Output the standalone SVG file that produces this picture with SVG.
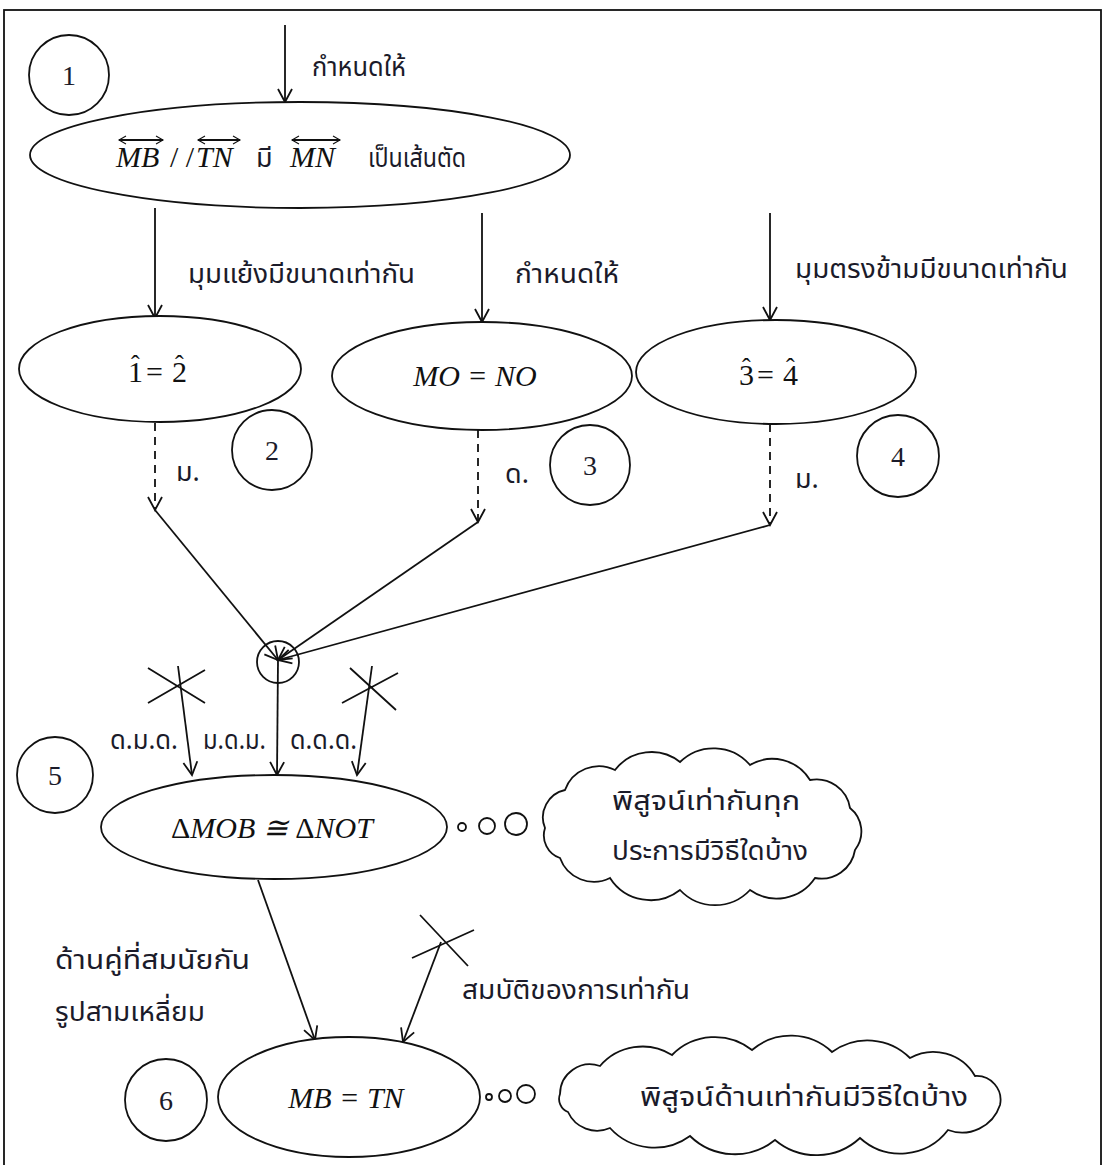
<svg xmlns="http://www.w3.org/2000/svg" width="1105" height="1165" viewBox="0 0 1105 1165">
  <style>
    .ln { fill: none; stroke: #111; stroke-width: 1.8; }
    .dash { stroke-dasharray: 8 6; }
    .shape { fill: #fff; stroke: #111; stroke-width: 1.8; }
    .th { font-family: "Noto Sans Thai", "Tahoma", "DejaVu Sans", "Noto Sans", sans-serif; font-size: 27px; fill: #1b1b2a; }
    .num { font-family: "Liberation Serif", serif; font-size: 28px; fill: #1b1b2a; }
    .math { font-family: "Liberation Serif", serif; font-style: italic; font-size: 30px; fill: #111; }
    .up { font-family: "Liberation Serif", serif; font-size: 30px; fill: #111; }
    .hat { font-size: 26px; }
  </style>
  <defs>
    <marker id="arrow" markerUnits="userSpaceOnUse" markerWidth="18" markerHeight="18" refX="15" refY="9" orient="auto">
      <path d="M2,2 L15,9 L2,16" fill="none" stroke="#111" stroke-width="1.8"/>
    </marker>
    <marker id="tip" markerUnits="userSpaceOnUse" markerWidth="10" markerHeight="10" refX="8" refY="5" orient="auto-start-reverse">
      <path d="M1,1 L8,5 L1,9" fill="none" stroke="#111" stroke-width="1.1"/>
    </marker>
  </defs>

  <rect width="1105" height="1165" fill="#fff"/>
  <!-- outer frame -->
  <rect x="4" y="10" width="1097" height="1170" fill="none" stroke="#111" stroke-width="1.8"/>

  <!-- connectors -->
  <g id="connectors">
    <line class="ln" x1="285" y1="25" x2="285" y2="102" marker-end="url(#arrow)"/>
    <line class="ln" x1="155" y1="208" x2="155" y2="318" marker-end="url(#arrow)"/>
    <line class="ln" x1="482" y1="213" x2="482" y2="322" marker-end="url(#arrow)"/>
    <line class="ln" x1="770" y1="213" x2="770" y2="320" marker-end="url(#arrow)"/>

    <line class="ln dash" x1="155" y1="423" x2="155" y2="510" marker-end="url(#arrow)"/>
    <line class="ln dash" x1="478" y1="430" x2="478" y2="522" marker-end="url(#arrow)"/>
    <line class="ln dash" x1="770" y1="424" x2="770" y2="525" marker-end="url(#arrow)"/>

    <line class="ln" x1="155" y1="510" x2="278" y2="660" marker-end="url(#arrow)"/>
    <line class="ln" x1="478" y1="522" x2="278" y2="660" marker-end="url(#arrow)"/>
    <line class="ln" x1="770" y1="525" x2="278" y2="660" marker-end="url(#arrow)"/>

    <line class="ln" x1="178" y1="666" x2="192" y2="775" marker-end="url(#arrow)"/>
    <line class="ln" x1="278" y1="660" x2="277" y2="775" marker-end="url(#arrow)"/>
    <line class="ln" x1="372" y1="666" x2="357" y2="775" marker-end="url(#arrow)"/>

    <line class="ln" x1="258" y1="880" x2="315" y2="1040" marker-end="url(#arrow)"/>
    <line class="ln" x1="441" y1="942" x2="403" y2="1042" marker-end="url(#arrow)"/>

    <!-- crossed marks on rejected paths -->
    <path class="ln" d="M148,668 L205,703 M148,703 L205,670"/>
    <path class="ln" d="M342,703 L398,673 M350,668 L396,710"/>
    <path class="ln" d="M412,958 L474,930 M420,915 L468,966"/>
  </g>

  <!-- step numbers -->
  <g id="step1"><circle class="shape" cx="69" cy="75" r="40"/><text class="num" x="69" y="85" text-anchor="middle">1</text></g>
  <g id="step2"><circle class="shape" cx="272" cy="450" r="40"/><text class="num" x="272" y="460" text-anchor="middle">2</text></g>
  <g id="step3"><circle class="shape" cx="590" cy="465" r="40"/><text class="num" x="590" y="475" text-anchor="middle">3</text></g>
  <g id="step4"><circle class="shape" cx="898" cy="456" r="41"/><text class="num" x="898" y="466" text-anchor="middle">4</text></g>
  <g id="step5"><circle class="shape" cx="55" cy="775" r="38"/><text class="num" x="55" y="785" text-anchor="middle">5</text></g>
  <g id="step6"><circle class="shape" cx="166" cy="1100" r="41"/><text class="num" x="166" y="1110" text-anchor="middle">6</text></g>

  <!-- given: parallel lines with transversal -->
  <g id="n1">
    <ellipse class="shape" cx="300" cy="155" rx="270" ry="53"/>
    <text class="math" x="116" y="167" font-size="28">MB</text>
    <text class="up" x="170" y="167" font-size="28">/ /</text>
    <text class="math" x="196" y="167" font-size="28">TN</text>
    <text class="th" x="256" y="167">มี</text>
    <text class="math" x="290" y="167" font-size="28">MN</text>
    <text class="th" x="368" y="167" textLength="98" lengthAdjust="spacingAndGlyphs">เป็นเส้นตัด</text>
    <line class="ln" stroke-width="1.1" x1="119" y1="140" x2="163" y2="140" marker-start="url(#tip)" marker-end="url(#tip)"/>
    <line class="ln" stroke-width="1.1" x1="198" y1="140" x2="240" y2="140" marker-start="url(#tip)" marker-end="url(#tip)"/>
    <line class="ln" stroke-width="1.1" x1="292" y1="140" x2="340" y2="140" marker-start="url(#tip)" marker-end="url(#tip)"/>
  </g>

  <!-- angle equalities, hats set as raised spacing circumflexes -->
  <g id="n2">
    <ellipse class="shape" cx="160" cy="369" rx="141" ry="53"/>
    <text class="up"><tspan x="128" y="382">1</tspan><tspan class="hat" x="131" y="373">ˆ</tspan><tspan x="146" y="382">=</tspan><tspan x="172" y="382">2</tspan><tspan class="hat" x="175" y="373">ˆ</tspan></text>
  </g>

  <g id="n3">
    <ellipse class="shape" cx="482" cy="376" rx="150" ry="54"/>
    <text class="math" x="475" y="386" text-anchor="middle">MO = NO</text>
  </g>

  <g id="n4">
    <ellipse class="shape" cx="776" cy="372" rx="140" ry="52"/>
    <text class="up"><tspan x="739" y="385">3</tspan><tspan class="hat" x="742" y="376">ˆ</tspan><tspan x="757" y="385">=</tspan><tspan x="783" y="385">4</tspan><tspan class="hat" x="786" y="376">ˆ</tspan></text>
  </g>

  <!-- junction where the three facts combine -->
  <g id="junction"><circle class="ln" cx="278" cy="662" r="21"/></g>

  <g id="n5">
    <ellipse class="shape" cx="274" cy="827" rx="173" ry="52"/>
    <text class="math" x="272" y="838" text-anchor="middle"><tspan font-style="normal">Δ</tspan>MOB ≅ <tspan font-style="normal">Δ</tspan>NOT</text>
  </g>

  <g id="n6">
    <ellipse class="shape" cx="349" cy="1097" rx="131" ry="60"/>
    <text class="math" x="346" y="1108" text-anchor="middle">MB = TN</text>
  </g>

  <!-- thought bubbles -->
  <g id="cloud5">
    <circle class="ln" cx="462" cy="827" r="4"/>
    <circle class="ln" cx="487" cy="826" r="8"/>
    <circle class="ln" cx="516" cy="824" r="11"/>
    <path class="shape" d="M545,828 A28,28 0 0 1 565,790 A36,36 0 0 1 615,770 A46,46 0 0 1 680,762 A48,48 0 0 1 750,765 A44,44 0 0 1 810,780 A34,34 0 0 1 850,808 A30,30 0 0 1 855,850 A34,34 0 0 1 815,878 A46,46 0 0 1 750,890 A48,48 0 0 1 680,890 A48,48 0 0 1 610,878 A36,36 0 0 1 560,858 A24,24 0 0 1 545,828 Z"/>
    <text class="th" x="612" y="810" textLength="188" lengthAdjust="spacingAndGlyphs">พิสูจน์เท่ากันทุก</text>
    <text class="th" x="612" y="860" textLength="196" lengthAdjust="spacingAndGlyphs">ประการมีวิธีใดบ้าง</text>
  </g>

  <g id="cloud6">
    <circle class="ln" cx="489" cy="1097" r="3"/>
    <circle class="ln" cx="505" cy="1096" r="6"/>
    <circle class="ln" cx="526" cy="1094" r="9"/>
    <path class="shape" d="M560,1094 A30,30 0 0 1 600,1066 A56,56 0 0 1 672,1055 A60,60 0 0 1 752,1050 A60,60 0 0 1 832,1052 A60,60 0 0 1 910,1058 A48,48 0 0 1 975,1076 A24,24 0 0 1 1000,1105 A40,40 0 0 1 948,1130 A60,60 0 0 1 860,1138 A64,64 0 0 1 775,1140 A64,64 0 0 1 690,1136 A60,60 0 0 1 610,1128 A32,32 0 0 1 568,1112 A14,14 0 0 1 560,1094 Z"/>
    <text class="th" x="640" y="1106" textLength="328" lengthAdjust="spacingAndGlyphs">พิสูจน์ด้านเท่ากันมีวิธีใดบ้าง</text>
  </g>

  <!-- connector labels -->
  <g id="labels">
    <text class="th" x="312" y="76" textLength="94" lengthAdjust="spacingAndGlyphs">กำหนดให้</text>
    <text class="th" x="188" y="283" textLength="227" lengthAdjust="spacingAndGlyphs">มุมแย้งมีขนาดเท่ากัน</text>
    <text class="th" x="515" y="283" textLength="104" lengthAdjust="spacingAndGlyphs">กำหนดให้</text>
    <text class="th" x="795" y="278" textLength="273" lengthAdjust="spacingAndGlyphs">มุมตรงข้ามมีขนาดเท่ากัน</text>
    <text class="th" x="176" y="481">ม.</text>
    <text class="th" x="505" y="483">ด.</text>
    <text class="th" x="795" y="488">ม.</text>
    <text class="th" x="110" y="749" textLength="68" lengthAdjust="spacingAndGlyphs">ด.ม.ด.</text>
    <text class="th" x="203" y="749" textLength="63" lengthAdjust="spacingAndGlyphs">ม.ด.ม.</text>
    <text class="th" x="290" y="749" textLength="67" lengthAdjust="spacingAndGlyphs">ด.ด.ด.</text>
    <text class="th" x="55" y="969" textLength="195" lengthAdjust="spacingAndGlyphs">ด้านคู่ที่สมนัยกัน</text>
    <text class="th" x="55" y="1021" textLength="150" lengthAdjust="spacingAndGlyphs">รูปสามเหลี่ยม</text>
    <text class="th" x="462" y="999" textLength="228" lengthAdjust="spacingAndGlyphs">สมบัติของการเท่ากัน</text>
  </g>
</svg>
